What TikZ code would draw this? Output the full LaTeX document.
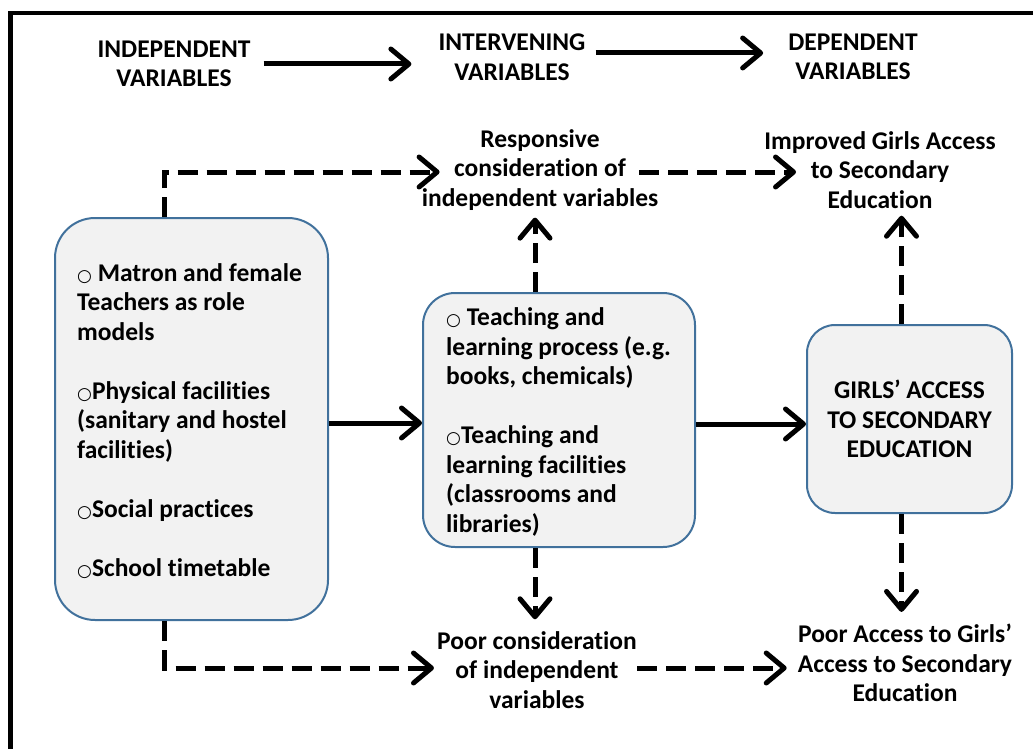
\documentclass[tikz,border=0pt]{standalone}
\usepackage{fontspec}
\setmainfont{Carlito}[Ligatures={NoCommon}]
\newfontfamily\symfont{DejaVu Sans}
\usepackage{tikz}
\usetikzlibrary{calc}
\usetikzlibrary{arrows.meta}
\colorlet{boxfill}{black!5}
\definecolor{boxline}{HTML}{41719C}
\tikzset{>={Straight Barb[length=18pt,width=30pt,round]}}
\tikzset{
  plaintext/.style={font=\bfseries\fontsize{25.5}{29.5}\selectfont, align=center, inner sep=0pt},
  roundbox/.style={plaintext, draw=boxline, line width=2pt, fill=boxfill},
  flow/.style={line width=5pt, ->},
  dashflow/.style={flow, dash pattern=on 20pt off 9pt}
}
\newcommand\bul{{\symfont\fontsize{17}{17}\selectfont ○}}

\begin{document}
\begin{tikzpicture}[x=1pt, y=-1pt]
    \useasboundingbox (0,0) rectangle (1033,749);
    \draw [line width=4.5pt] (10.5,749) -- (10.5,13) -- (1033,13);

    % headings
    \node (indep) [plaintext] at (174,64) {INDEPENDENT\\VARIABLES};
    \node (interv) [plaintext] at (512,57) {INTERVENING\\VARIABLES};
    \node (dep) [plaintext] at (853,57) {DEPENDENT\\VARIABLES};
    \draw [flow] ([xshift=13pt]indep.east) -- ([xshift=-27pt]indep.east -| interv.west);
    \draw [flow] ([xshift=10pt, yshift=4pt]interv.east) -- ([xshift=-25pt, yshift=4pt]interv.east -| dep.west);

    % boxes, with their lists set apart
    \node (factors) [roundbox, rounded corners=40pt, minimum width=273pt, minimum height=402pt] at (191.5,419) {};
    \node (factorlist) [plaintext, align=left, anchor=west] at ([xshift=23pt, yshift=-2pt]factors.west) {%
        \bul{} Matron and female\\Teachers as role\\models\\[29.5pt]
        \bul Physical facilities\\(sanitary and hostel\\facilities)\\[29.5pt]
        \bul Social practices\\[29.5pt]
        \bul School timetable};
    \node (process) [roundbox, rounded corners=32pt, minimum width=272pt, minimum height=254pt] at (559,420) {};
    \node (processlist) [plaintext, align=left, anchor=west] at ([xshift=24pt, yshift=-2pt]process.west) {%
        \bul{} Teaching and\\learning process (e.g.\\books, chemicals)\\[29.5pt]
        \bul Teaching and\\learning facilities\\(classrooms and\\libraries)};
    \node (goal) [roundbox, rounded corners=28pt, minimum width=205pt, minimum height=188pt] at (909.5,419) {GIRLS’ ACCESS\\TO SECONDARY\\EDUCATION};

    % outcomes
    \node (resp) [plaintext] at (540,170) {Responsive\\consideration of\\independent variables};
    \node (improved) [plaintext] at (880,170) {Improved Girls Access\\to Secondary\\Education};
    \node (poorcons) [plaintext] at (537,670) {Poor consideration\\of independent\\variables};
    \node (pooracc) [plaintext] at (905,663) {Poor Access to Girls’\\Access to Secondary\\Education};

    % solid links
    \draw [flow] ([yshift=-4pt]factors.east) -- ([yshift=-4pt]factors.east -| process.west);
    \draw [flow] ([yshift=-4pt]process.east) -- ([yshift=-4pt]process.east -| goal.west);

    % dashed links
    \draw [dashflow] ([xshift=-27pt]factors.north) |- ([xshift=18pt, yshift=-2pt]resp.west);
    \draw [dashflow] ([xshift=-19pt, yshift=-2pt]resp.east) -- ([xshift=32pt, yshift=-2pt]improved.west);
    \draw [dashflow] ([xshift=-24pt]process.north) -- ([xshift=-24pt, yshift=-7pt]process.north |- resp.south);
    \draw [dashflow] ([xshift=-8pt]goal.north) -- ([xshift=-8pt, yshift=-7pt]goal.north |- improved.south);
    \draw [dashflow] ([xshift=-24pt]process.south) -- ([xshift=-24pt, yshift=12pt]process.south |- poorcons.north);
    \draw [dashflow] ([xshift=-8pt]goal.south) -- ([xshift=-8pt, yshift=12pt]goal.south |- pooracc.north);
    \draw [dashflow] ([xshift=-27pt]factors.south) |- ([xshift=-3pt, yshift=2pt]poorcons.west);
    \draw [dashflow] ([yshift=2pt]poorcons.east) -- ([xshift=-11pt, yshift=2pt]poorcons.east -| pooracc.west);
\end{tikzpicture}
\end{document}
